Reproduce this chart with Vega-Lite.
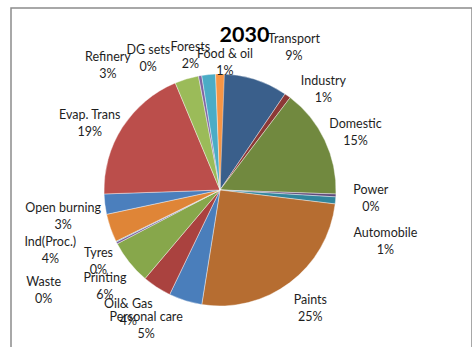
{
  "$schema": "https://vega.github.io/schema/vega-lite/v6.json",
  "autosize": {"type": "none"},
  "width": 461,
  "height": 364,
  "padding": {"left": 11, "top": 8, "right": 0, "bottom": 0},
  "background": "white",
  "view": {"stroke": "#8c8c8c", "strokeWidth": 1.5},
  "title": {
    "text": "2030",
    "font": "Lato",
    "fontSize": 21.5,
    "fontWeight": "bold",
    "color": "#000000",
    "anchor": "middle",
    "baseline": "alphabetic",
    "offset": -33,
    "dy": 22,
    "dx": 3
  },
  "config": {
    "text": {
      "font": "Lato",
      "fontSize": 12.5,
      "color": "#1e1e1e",
      "lineBreak": "\n",
      "lineHeight": 17,
      "baseline": "middle",
      "align": "center"
    }
  },
  "data": {
    "values": [
      {"rank": 1, "source": "Transport", "share": 9.4},
      {"rank": 2, "source": "Industry", "share": 0.86},
      {"rank": 3, "source": "Domestic", "share": 15.1},
      {"rank": 4, "source": "Power", "share": 0.39},
      {"rank": 5, "source": "Automobile", "share": 0.97},
      {"rank": 6, "source": "Paints", "share": 25.4},
      {"rank": 7, "source": "Personal care", "share": 4.6},
      {"rank": 8, "source": "Oil& Gas", "share": 4.0},
      {"rank": 9, "source": "Printing", "share": 6.1},
      {"rank": 10, "source": "Tyres", "share": 0.28},
      {"rank": 11, "source": "Waste", "share": 0.1},
      {"rank": 12, "source": "Ind(Proc.)", "share": 3.9},
      {"rank": 13, "source": "Open burning", "share": 2.8},
      {"rank": 14, "source": "Evap. Trans", "share": 19.1},
      {"rank": 15, "source": "Refinery", "share": 3.3},
      {"rank": 16, "source": "DG sets", "share": 0.45},
      {"rank": 17, "source": "Forests", "share": 1.9},
      {"rank": 18, "source": "Food & oil", "share": 1.2}
    ]
  },
  "transform": [
    {"joinaggregate": [{"op": "sum", "field": "share", "as": "total"}]},
    {"calculate": "datum.source + '\\n' + format(datum.share / datum.total, '.0%')", "as": "label"},
    {"stack": "share", "groupby": [], "sort": [{"field": "rank", "order": "ascending"}], "as": ["start", "end"]},
    {"calculate": "(datum.start + datum.end) / 2", "as": "middle"}
  ],
  "layer": [
    {
      "mark": {
        "type": "arc",
        "outerRadius": 116,
        "x": {"expr": "width / 2 - 21.5"},
        "stroke": "#ffffff",
        "strokeWidth": 0.4
      },
      "encoding": {
        "theta": {"field": "start", "type": "quantitative"},
        "theta2": {"field": "end"},
        "color": {
          "field": "source",
          "type": "nominal",
          "legend": null,
          "scale": {
            "domain": ["Transport", "Industry", "Domestic", "Power", "Automobile", "Paints",
                       "Personal care", "Oil& Gas", "Printing", "Tyres", "Waste", "Ind(Proc.)",
                       "Open burning", "Evap. Trans", "Refinery", "DG sets", "Forests", "Food & oil"],
            "range": ["#3a5f8b", "#8c3836", "#71893f", "#5f4b7a", "#31859c", "#b66d31",
                      "#4a7ebb", "#aa423f", "#87a74b", "#7a5c9c", "#3f9cb4", "#df8537",
                      "#4b7fbd", "#bb4e4b", "#9bbb59", "#8064a2", "#4bacc6", "#f69545"]
          }
        }
      }
    },
    {
      "transform": [{"filter": {"field": "source", "equal": "Transport"}}],
      "mark": {"type": "text", "radius": 150, "x": {"expr": "width / 2 - 21.5"}, "dx": 30, "dy": -8},
      "encoding": {"theta": {"field": "middle", "type": "quantitative"}, "text": {"field": "label", "type": "nominal"}}
    },
    {
      "transform": [{"filter": {"field": "source", "equal": "Industry"}}],
      "mark": {"type": "text", "radius": 150, "x": {"expr": "width / 2 - 21.5"}, "dx": 16, "dy": 13},
      "encoding": {"theta": {"field": "middle", "type": "quantitative"}, "text": {"field": "label", "type": "nominal"}}
    },
    {
      "transform": [{"filter": {"field": "source", "equal": "Domestic"}}],
      "mark": {"type": "text", "radius": 150, "x": {"expr": "width / 2 - 21.5"}, "dx": 0, "dy": -2},
      "encoding": {"theta": {"field": "middle", "type": "quantitative"}, "text": {"field": "label", "type": "nominal"}}
    },
    {
      "transform": [{"filter": {"field": "source", "equal": "Power"}}],
      "mark": {"type": "text", "radius": 150, "x": {"expr": "width / 2 - 21.5"}, "dx": 1, "dy": -7},
      "encoding": {"theta": {"field": "middle", "type": "quantitative"}, "text": {"field": "label", "type": "nominal"}}
    },
    {
      "transform": [{"filter": {"field": "source", "equal": "Automobile"}}],
      "mark": {"type": "text", "radius": 150, "x": {"expr": "width / 2 - 21.5"}, "dx": 16, "dy": 30},
      "encoding": {"theta": {"field": "middle", "type": "quantitative"}, "text": {"field": "label", "type": "nominal"}}
    },
    {
      "transform": [{"filter": {"field": "source", "equal": "Paints"}}],
      "mark": {"type": "text", "radius": 150, "x": {"expr": "width / 2 - 21.5"}, "dx": 0, "dy": -10},
      "encoding": {"theta": {"field": "middle", "type": "quantitative"}, "text": {"field": "label", "type": "nominal"}}
    },
    {
      "transform": [{"filter": {"field": "source", "equal": "Personal care"}}],
      "mark": {"type": "text", "radius": 150, "x": {"expr": "width / 2 - 21.5"}, "dx": -29, "dy": -16},
      "encoding": {"theta": {"field": "middle", "type": "quantitative"}, "text": {"field": "label", "type": "nominal"}}
    },
    {
      "transform": [{"filter": {"field": "source", "equal": "Oil& Gas"}}],
      "mark": {"type": "text", "radius": 150, "x": {"expr": "width / 2 - 21.5"}, "dx": -10, "dy": -12},
      "encoding": {"theta": {"field": "middle", "type": "quantitative"}, "text": {"field": "label", "type": "nominal"}}
    },
    {
      "transform": [{"filter": {"field": "source", "equal": "Printing"}}],
      "mark": {"type": "text", "radius": 150, "x": {"expr": "width / 2 - 21.5"}, "dx": 2, "dy": -6},
      "encoding": {"theta": {"field": "middle", "type": "quantitative"}, "text": {"field": "label", "type": "nominal"}}
    },
    {
      "transform": [{"filter": {"field": "source", "equal": "Tyres"}}],
      "mark": {"type": "text", "radius": 150, "x": {"expr": "width / 2 - 21.5"}, "dx": 12, "dy": -5},
      "encoding": {"theta": {"field": "middle", "type": "quantitative"}, "text": {"field": "label", "type": "nominal"}}
    },
    {
      "transform": [{"filter": {"field": "source", "equal": "Waste"}}],
      "mark": {"type": "text", "radius": 150, "x": {"expr": "width / 2 - 21.5"}, "dx": -42, "dy": 25},
      "encoding": {"theta": {"field": "middle", "type": "quantitative"}, "text": {"field": "label", "type": "nominal"}}
    },
    {
      "transform": [{"filter": {"field": "source", "equal": "Ind(Proc.)"}}],
      "mark": {"type": "text", "radius": 150, "x": {"expr": "width / 2 - 21.5"}, "dx": -28, "dy": 3},
      "encoding": {"theta": {"field": "middle", "type": "quantitative"}, "text": {"field": "label", "type": "nominal"}}
    },
    {
      "transform": [{"filter": {"field": "source", "equal": "Open burning"}}],
      "mark": {"type": "text", "radius": 150, "x": {"expr": "width / 2 - 21.5"}, "dx": -8, "dy": 0},
      "encoding": {"theta": {"field": "middle", "type": "quantitative"}, "text": {"field": "label", "type": "nominal"}}
    },
    {
      "transform": [{"filter": {"field": "source", "equal": "Evap. Trans"}}],
      "mark": {"type": "text", "radius": 150, "x": {"expr": "width / 2 - 21.5"}, "dx": -4, "dy": 6},
      "encoding": {"theta": {"field": "middle", "type": "quantitative"}, "text": {"field": "label", "type": "nominal"}}
    },
    {
      "transform": [{"filter": {"field": "source", "equal": "Refinery"}}],
      "mark": {"type": "text", "radius": 150, "x": {"expr": "width / 2 - 21.5"}, "dx": -69, "dy": 11},
      "encoding": {"theta": {"field": "middle", "type": "quantitative"}, "text": {"field": "label", "type": "nominal"}}
    },
    {
      "transform": [{"filter": {"field": "source", "equal": "DG sets"}}],
      "mark": {"type": "text", "radius": 150, "x": {"expr": "width / 2 - 21.5"}, "dx": -46, "dy": 8},
      "encoding": {"theta": {"field": "middle", "type": "quantitative"}, "text": {"field": "label", "type": "nominal"}}
    },
    {
      "transform": [{"filter": {"field": "source", "equal": "Forests"}}],
      "mark": {"type": "text", "radius": 150, "x": {"expr": "width / 2 - 21.5"}, "dx": -15, "dy": 6},
      "encoding": {"theta": {"field": "middle", "type": "quantitative"}, "text": {"field": "label", "type": "nominal"}}
    },
    {
      "transform": [{"filter": {"field": "source", "equal": "Food & oil"}}],
      "mark": {"type": "text", "radius": 150, "x": {"expr": "width / 2 - 21.5"}, "dx": 5, "dy": 14},
      "encoding": {"theta": {"field": "middle", "type": "quantitative"}, "text": {"field": "label", "type": "nominal"}}
    }
  ]
}
